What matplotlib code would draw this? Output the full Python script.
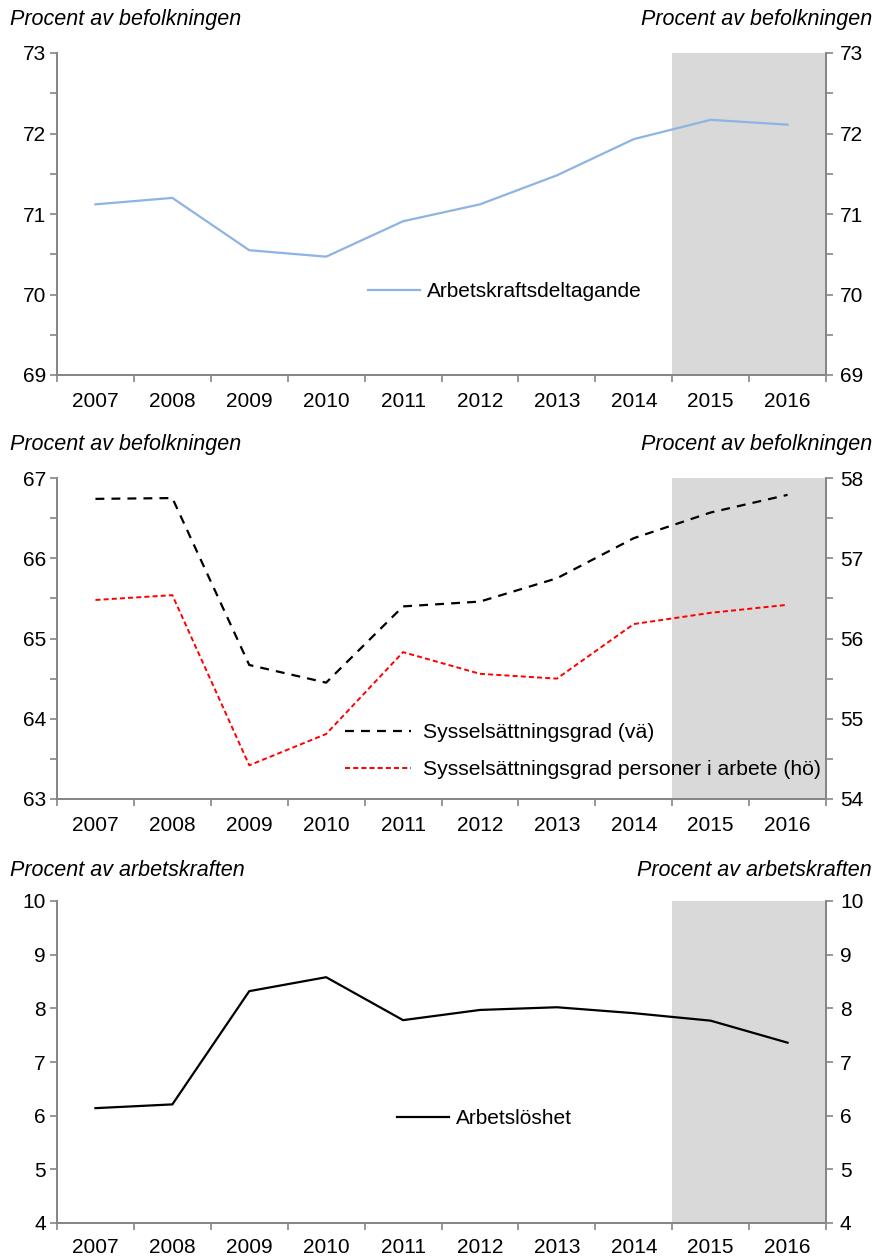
import matplotlib
matplotlib.use("Agg")
import matplotlib.pyplot as plt
from matplotlib.ticker import MultipleLocator, FixedLocator
import numpy as np

plt.rcParams['font.family'] = ['Liberation Sans', 'DejaVu Sans']

years = ['2007', '2008', '2009', '2010', '2011', '2012', '2013', '2014', '2015', '2016']
deltagande = [71.12, 71.20, 70.55, 70.47, 70.91, 71.12, 71.48, 71.93, 72.17, 72.11]
syss_grad = [66.74, 66.75, 64.67, 64.45, 65.40, 65.46, 65.75, 66.25, 66.57, 66.79]
syss_arbete = [56.48, 56.54, 54.42, 54.81, 55.83, 55.56, 55.50, 56.18, 56.32, 56.42]
arbetsloshet = [6.14, 6.21, 8.32, 8.58, 7.78, 7.97, 8.02, 7.91, 7.77, 7.36]

label_del = 'Arbetskraftsdeltagande'
label_sg = 'Sysselsättningsgrad (vä)'
label_sa = 'Sysselsättningsgrad personer i arbete (hö)'
label_al = 'Arbetslöshet'
unit_bef = 'Procent av befolkningen'
unit_ak = 'Procent av arbetskraften'

W, H = 876, 1258
fig = plt.figure(figsize=(W / 100, H / 100), dpi=100)
x = np.arange(len(years))
spine_col = '#868686'
FS = 15
FT = 15.5


def make_ax(top_px, bot_px):
    ax = fig.add_axes([57 / W, 1 - bot_px / H, 769 / W, (bot_px - top_px) / H])
    return ax


def style(ax, ax2, ylim, ylim2, minor, xpad=12):
    ax.set_xlim(-0.5, len(years) - 0.5)
    ax.axvspan(7.5, 9.5, color='#d9d9d9', lw=0, zorder=0)
    for a, yl in ((ax, ylim), (ax2, ylim2)):
        a.set_ylim(*yl)
        a.yaxis.set_major_locator(MultipleLocator(1))
        if minor:
            a.yaxis.set_minor_locator(MultipleLocator(0.5))
        for s in a.spines.values():
            s.set_color(spine_col)
            s.set_linewidth(1.3)
        a.spines['top'].set_visible(False)
        a.tick_params(axis='y', which='both', direction='out', color=spine_col,
                      width=1.2, labelsize=FS)
        a.tick_params(axis='y', which='major', length=5)
        a.tick_params(axis='y', which='minor', length=5)
    ax.tick_params(axis='y', pad=3)
    ax2.tick_params(axis='y', pad=5)
    ax.set_xticks(x)
    ax.set_xticklabels(years)
    ax.xaxis.set_minor_locator(FixedLocator(np.arange(-0.5, len(years), 1.0)))
    ax.tick_params(axis='x', which='major', length=0, labelsize=FS, pad=xpad)
    ax.tick_params(axis='x', which='minor', length=5, direction='out',
                   color=spine_col, width=1.2)


def titles(y_px, txt):
    fig.text(10 / W, 1 - y_px / H, txt, ha='left', va='center', fontsize=FT,
             style='italic')
    fig.text(872 / W, 1 - y_px / H, txt, ha='right', va='center', fontsize=FT,
             style='italic')


# Panel 1
ax1 = make_ax(53, 375)
ax1b = ax1.twinx()
style(ax1, ax1b, (69, 73), (69, 73), True)
ax1.plot(x, deltagande, color='#8db4e2', lw=1.6, label=label_del)
ax1.legend(loc='center left', bbox_to_anchor=(0.404, 0.258), frameon=False,
           fontsize=FS, handlelength=2.5, borderpad=0, borderaxespad=0,
           handletextpad=0.33)
titles(20, unit_bef)

# Panel 2
ax2 = make_ax(478, 799)
ax2b = ax2.twinx()
style(ax2, ax2b, (63, 67), (54, 58), True)
l1, = ax2.plot(x, syss_grad, color='black', lw=1.6, ls=(0, (4, 3.2)), label=label_sg)
l2, = ax2b.plot(x, syss_arbete, color='#ff0000', lw=1.4, ls=(0, (2.6, 1.6)), label=label_sa)
ax2.legend(handles=[l1, l2], loc='center left', bbox_to_anchor=(0.375, 0.1495),
           frameon=False, fontsize=15.2, handlelength=3.1, borderpad=0,
           borderaxespad=0, handletextpad=0.58, labelspacing=0.85)
titles(444, unit_bef)

# Panel 3
ax3 = make_ax(901, 1223)
ax3b = ax3.twinx()
style(ax3, ax3b, (4, 10), (4, 10), False, xpad=11)
ax3.plot(x, arbetsloshet, color='black', lw=1.6, label=label_al)
ax3.legend(loc='center left', bbox_to_anchor=(0.442, 0.323), frameon=False,
           fontsize=FS, handlelength=2.5, borderpad=0, borderaxespad=0,
           handletextpad=0.33)
titles(870, unit_ak)

fig.savefig('out.png', dpi=100)
